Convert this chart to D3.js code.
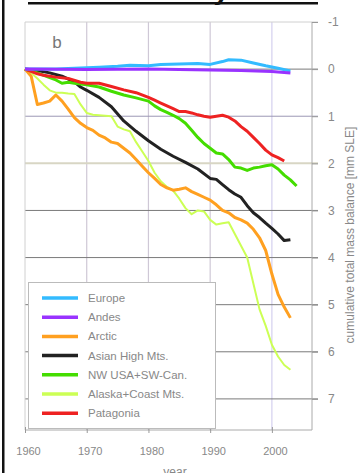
<!DOCTYPE html>
<html>
<head>
<meta charset="utf-8">
<script src="https://cdn.jsdelivr.net/npm/d3@7"></script>
<style>
  body { margin: 0; background: #fff; }
  svg { display: block; font-family: "Liberation Sans", Arial, sans-serif; }
</style>
</head>
<body>
<div id="chart"></div>
<script>
const yearTicks = [1960, 1970, 1980, 1990, 2000];
const valueTicks = [-1, 0, 1, 2, 3, 4, 5, 6, 7];
const regions = ["Europe", "Andes", "Arctic", "Asian High Mts.", "NW USA+SW-Can.", "Alaska+Coast Mts.", "Patagonia"];
const regionColors = ["#33bbff", "#9933ff", "#ffa020", "#222222", "#44dd00", "#ccff55", "#ee2222"];

const europe = [[1960,0],[1965,0],[1968,-0.02],[1972,-0.04],[1975,-0.06],[1977,-0.08],[1980,-0.07],[1982,-0.1],[1985,-0.11],[1988,-0.12],[1990,-0.1],[1992,-0.16],[1993,-0.2],[1995,-0.19],[1997,-0.13],[1999,-0.07],[2001,-0.02],[2003,0.04]];
const andes = [[1960,0],[1970,0.01],[1980,0.0],[1990,0.02],[1995,0.03],[2000,0.05],[2003,0.08]];
const arctic = [[1960,0],[1961,0.15],[1962,0.75],[1963,0.72],[1964,0.68],[1965,0.55],[1966,0.68],[1967,0.85],[1968,1.03],[1969,1.15],[1970,1.24],[1971,1.3],[1972,1.4],[1973,1.46],[1974,1.55],[1975,1.58],[1976,1.68],[1977,1.78],[1978,1.92],[1979,2.06],[1980,2.2],[1981,2.32],[1982,2.45],[1983,2.52],[1984,2.57],[1985,2.55],[1986,2.52],[1987,2.6],[1988,2.66],[1989,2.72],[1990,2.78],[1991,2.88],[1992,3.0],[1993,3.05],[1994,3.15],[1995,3.2],[1996,3.27],[1997,3.4],[1998,3.58],[1999,3.85],[2000,4.35],[2001,4.78],[2002,5.05],[2003,5.28]];
const asian = [[1960,0],[1962,0.03],[1964,0.08],[1966,0.15],[1968,0.27],[1969,0.38],[1970,0.45],[1972,0.6],[1974,0.8],[1976,1.1],[1978,1.32],[1980,1.52],[1982,1.7],[1984,1.85],[1986,1.98],[1988,2.12],[1990,2.32],[1991,2.34],[1992,2.45],[1993,2.56],[1994,2.65],[1995,2.72],[1996,2.9],[1997,3.05],[1998,3.15],[1999,3.27],[2000,3.38],[2001,3.5],[2002,3.64],[2003,3.62]];
const nwUsa = [[1960,0],[1962,0.08],[1964,0.18],[1965,0.23],[1966,0.3],[1967,0.28],[1968,0.3],[1970,0.33],[1972,0.38],[1974,0.47],[1976,0.55],[1978,0.61],[1980,0.68],[1981,0.78],[1982,0.86],[1983,0.92],[1984,0.98],[1985,1.05],[1986,1.15],[1987,1.3],[1988,1.45],[1989,1.58],[1990,1.68],[1991,1.78],[1992,1.8],[1993,1.92],[1994,2.08],[1995,2.1],[1996,2.15],[1997,2.1],[1998,2.08],[1999,2.05],[2000,2.03],[2001,2.12],[2002,2.25],[2003,2.35],[2004,2.48]];
const alaska = [[1960,0],[1961,0.08],[1962,0.2],[1963,0.33],[1964,0.45],[1965,0.5],[1966,0.5],[1967,0.52],[1968,0.53],[1969,0.75],[1970,0.93],[1971,0.97],[1972,0.98],[1973,0.99],[1974,1.0],[1975,1.22],[1976,1.28],[1977,1.32],[1978,1.55],[1979,1.75],[1980,1.95],[1981,2.2],[1982,2.38],[1983,2.5],[1984,2.58],[1985,2.75],[1986,2.95],[1987,3.08],[1988,3.0],[1989,3.02],[1990,3.2],[1991,3.3],[1992,3.27],[1993,3.25],[1994,3.5],[1995,3.75],[1996,4.0],[1997,4.55],[1998,5.1],[1999,5.45],[2000,5.85],[2001,6.1],[2002,6.28],[2003,6.38]];
const patagonia = [[1960,0],[1961,0.05],[1962,0.1],[1963,0.13],[1965,0.17],[1967,0.2],[1969,0.28],[1970,0.3],[1972,0.3],[1974,0.37],[1976,0.44],[1978,0.5],[1980,0.6],[1981,0.66],[1982,0.72],[1983,0.78],[1984,0.84],[1985,0.9],[1986,0.9],[1987,0.93],[1988,0.97],[1989,1.0],[1990,1.02],[1991,1.0],[1992,0.98],[1993,1.02],[1994,1.1],[1995,1.22],[1996,1.32],[1997,1.45],[1998,1.58],[1999,1.72],[2000,1.82],[2001,1.88],[2002,1.95]];

const seriesValues = [europe, andes, arctic, asian, nwUsa, alaska, patagonia];

const W = 363, H = 473;
const plotLeft = 25, plotRight = 312, plotTop = 22, plotBottom = 430;

const svg = d3.select("#chart").append("svg")
  .attr("width", W)
  .attr("height", H);

// cropped slide title and frame
svg.append("rect").attr("x", 2).attr("y", 0).attr("width", 2.5).attr("height", H).attr("fill", "#111");
svg.append("text")
  .attr("x", 28).attr("y", 0)
  .attr("textLength", 290).attr("lengthAdjust", "spacingAndGlyphs")
  .attr("font-size", 26).attr("font-weight", "bold").attr("fill", "#111")
  .text("since the early 1960s");
svg.append("rect").attr("x", 28).attr("y", 2).attr("width", 290).attr("height", 2.5).attr("fill", "#111");

const x = d3.scaleLinear().domain([1960, 2006.5]).range([plotLeft, plotRight]);
const y = d3.scaleLinear().domain([-1, 7.66]).range([plotTop, plotBottom]);

// vertical grid
svg.append("g")
  .selectAll("line")
  .data(yearTicks.slice(1))
  .join("line")
    .attr("x1", d => x(d)).attr("x2", d => x(d))
    .attr("y1", plotTop).attr("y2", plotBottom)
    .attr("stroke", d => d === 2000 ? "#d4d0ee" : "#cfc8d6")
    .attr("stroke-width", 1.2);

// horizontal grid, extends past the right axis like ticks
const gridColor = v => v === -1 ? "#d0d0d0" : v === 2 ? "#d8d6c4" : v === 1 ? "#9c98b4" : "#7a7a7a";
svg.append("g")
  .selectAll("line")
  .data(valueTicks)
  .join("line")
    .attr("x1", plotLeft).attr("x2", plotRight + 6)
    .attr("y1", d => y(d)).attr("y2", d => y(d))
    .attr("stroke", gridColor)
    .attr("stroke-width", d => d === 2 ? 2 : 1);

// frame
svg.append("line").attr("x1", plotLeft).attr("x2", plotLeft).attr("y1", plotTop).attr("y2", plotBottom).attr("stroke", "#d0d0d0");

// right axis
const yAxis = svg.append("g")
  .attr("transform", `translate(${plotRight},0)`)
  .call(d3.axisRight(y).tickValues(valueTicks).tickSize(6).tickPadding(10).tickFormat(d => String(d)));
yAxis.select(".domain").attr("stroke", "#aaa").attr("d", `M0,${plotTop}V${plotBottom}`);
yAxis.selectAll(".tick line").attr("stroke", "#999");
yAxis.selectAll("text").attr("fill", "#888").attr("font-size", 12).attr("font-family", "Liberation Sans, Arial, sans-serif");

// bottom axis
const xAxis = svg.append("g")
  .attr("transform", `translate(0,${plotBottom})`)
  .call(d3.axisBottom(x).tickValues(yearTicks).tickSize(3).tickPadding(14).tickFormat(d => String(d)));
xAxis.select(".domain").attr("stroke", "#aaa").attr("d", `M${plotLeft},0H${plotRight}`);
xAxis.selectAll(".tick line").attr("stroke", "#999").attr("y1", -3);
xAxis.selectAll("text").attr("fill", "#888").attr("font-size", 11).attr("dx", 3).attr("font-family", "Liberation Sans, Arial, sans-serif");

svg.append("text")
  .attr("x", 175).attr("y", 476)
  .attr("text-anchor", "middle").attr("font-size", 12).attr("fill", "#888")
  .text("year");

svg.append("text")
  .attr("transform", "translate(354,235) rotate(-90)")
  .attr("text-anchor", "middle").attr("font-size", 12).attr("fill", "#888")
  .text("cumulative total mass balance [mm SLE]");

svg.append("text")
  .attr("x", 57).attr("y", 48)
  .attr("text-anchor", "middle").attr("font-size", 17).attr("fill", "#777")
  .text("b");

// series
const line = d3.line()
  .x(d => x(d[0]))
  .y(d => y(d[1]));

const drawOrder = [5, 2, 3, 4, 6, 0, 1];
svg.append("g")
  .selectAll("path")
  .data(drawOrder)
  .join("path")
    .attr("fill", "none")
    .attr("stroke", i => regionColors[i])
    .attr("stroke-width", i => i === 5 ? 2 : 3)
    .attr("stroke-linejoin", "round")
    .attr("d", i => line(seriesValues[i]));

// legend
const legend = svg.append("g");
legend.append("rect")
  .attr("x", 28.5).attr("y", 282.5)
  .attr("width", 187).attr("height", 146)
  .attr("fill", "#fff").attr("stroke", "#bbb");

const row = legend.selectAll("g.row")
  .data(regions)
  .join("g")
    .attr("class", "row")
    .attr("transform", (d, i) => `translate(0,${298 + i * 19.2})`);
row.append("line")
  .attr("x1", 42).attr("x2", 78)
  .attr("stroke", (d, i) => regionColors[i])
  .attr("stroke-width", 3.5);
row.append("text")
  .attr("x", 88).attr("y", 4)
  .attr("font-size", 11.5).attr("fill", "#888")
  .text(d => d);
</script>
</body>
</html>
